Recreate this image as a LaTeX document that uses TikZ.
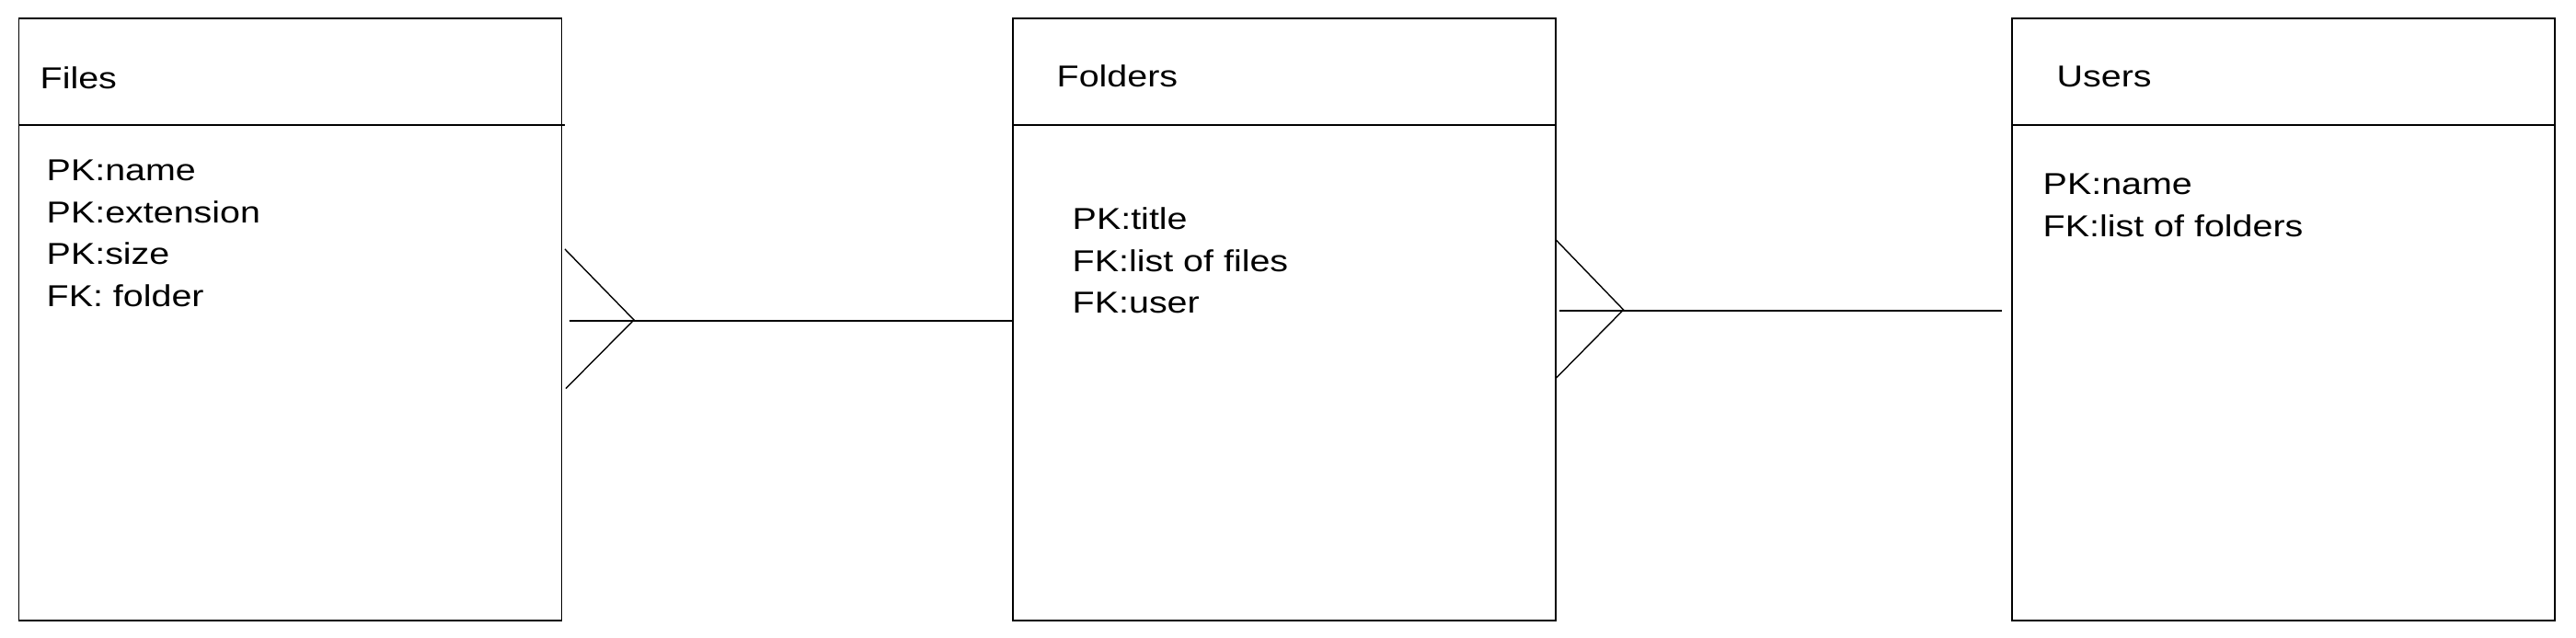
\documentclass[tikz,border=0pt]{standalone}
\usepackage{fontspec}
\usepackage{tikz}
\usepackage{xcolor}

\newfontfamily\erfont{Liberation Sans}[FakeStretch=1.2]

\tikzset{
    entity/.style={draw, line width=0.55pt, minimum width=5.9cm, minimum height=6.55cm, inner sep=0pt},
    title/.style={anchor=base west, inner sep=0pt, font=\erfont\fontsize{9.35}{12.95}\selectfont},
    attrs/.style={anchor=north west, inner sep=0pt, align=left, font=\erfont\fontsize{9.35}{12.95}\selectfont},
    link/.style={line width=0.55pt},
    crow/.style={line width=0.4pt}
}

\begin{document}
\begin{tikzpicture}
        \useasboundingbox (0, 0) rectangle (28, 6.94);

        % entity boxes
        \node [entity] (files) at (3.155, 3.465) {};
        \node [entity] (folders) at (13.96, 3.465) {};
        \node [entity] (users) at (24.82, 3.465) {};

        \draw [link] ([yshift=-1.17cm] files.north west) -- ([yshift=-1.17cm, xshift=0.03cm] files.north east);
        \draw [link] ([yshift=-1.17cm] folders.north west) -- ([yshift=-1.17cm] folders.north east);
        \draw [link] ([yshift=-1.17cm] users.north west) -- ([yshift=-1.17cm] users.north east);

        % titles
        \node [title] (files-title) at (0.43, 5.975) {Files};
        \node [title] (folders-title) at (11.48, 5.99) {Folders};
        \node [title] (users-title) at (22.35, 5.99) {Users};

        % keys
        \node [attrs] (files-keys) at (0.50, 5.208) {PK:name\\PK:extension\\PK:size\\FK: folder};
        \node [attrs] (folders-keys) at (11.65, 4.688) {PK:title\\FK:list of files\\FK:user};
        \node [attrs] (users-keys) at (22.20, 5.058) {PK:name\\FK:list of folders};

        % files -- folders
        \coordinate (ff-up) at (6.14, 4.23);
        \coordinate (ff-tip) at (6.89, 3.46);
        \coordinate (ff-down) at (6.15, 2.713);
        \coordinate (ff-start) at (6.19, 3.45);
        \draw [crow] (ff-up) -- (ff-tip) -- (ff-down);
        \draw [link] (ff-start) -- (ff-start -| folders.west);

        % folders -- users
        \coordinate (fu-up) at (16.91, 4.333);
        \coordinate (fu-tip) at (17.646, 3.57);
        \coordinate (fu-down) at (16.91, 2.823);
        \coordinate (fu-start) at (16.95, 3.563);
        \coordinate (fu-end) at (21.76, 3.563);
        \draw [crow] (fu-up) -- (fu-tip) -- (fu-down);
        \draw [link] (fu-start) -- (fu-end);
    \end{tikzpicture}
\end{document}
